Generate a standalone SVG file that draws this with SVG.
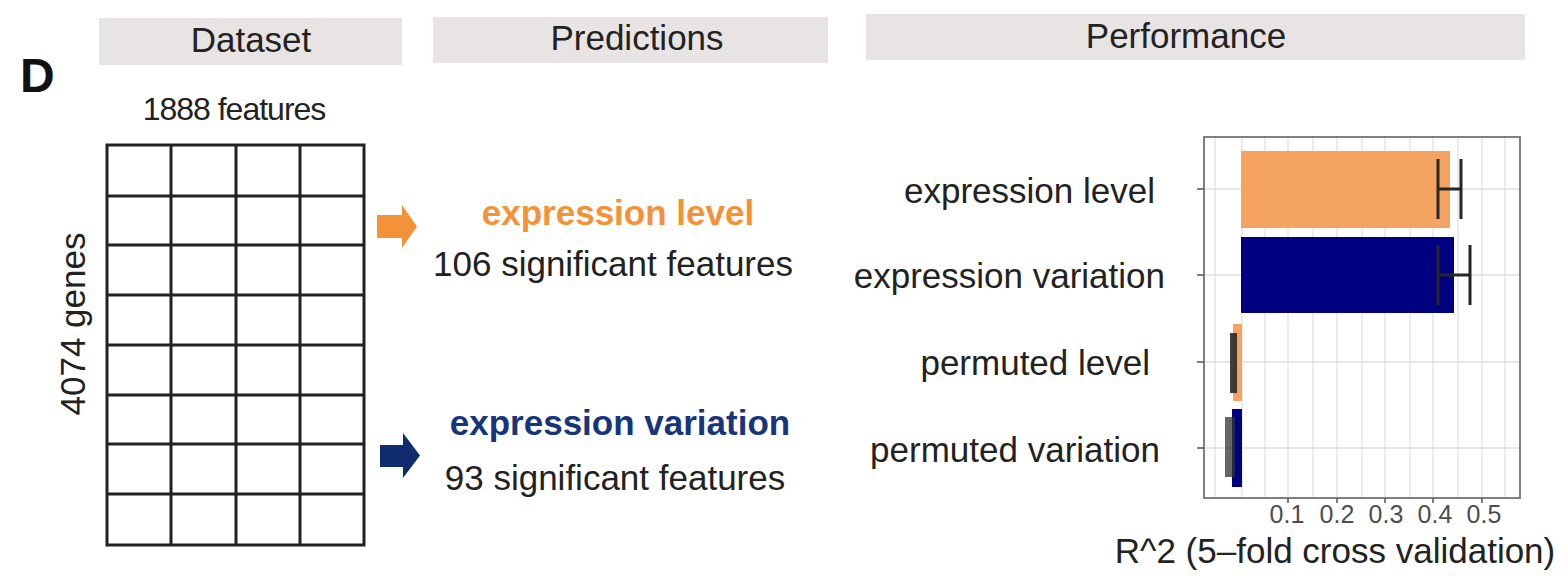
<svg xmlns="http://www.w3.org/2000/svg" width="1562" height="583" viewBox="0 0 1562 583">
<style>
text{font-family:"Liberation Sans",Arial,sans-serif;fill:#222}
.hdr{fill:#e8e4e4}
.ht{font-size:35px;text-anchor:middle}
.big{font-size:35px}
.grid{stroke:#222;stroke-width:3;fill:none}
.gl{stroke:#e6e6e6;stroke-width:1.5}
.tick{fill:#4d4d4d;font-size:25px;text-anchor:middle}
.eb{stroke:#262626;stroke-width:3;fill:none}
</style>
<rect width="1562" height="583" fill="#fff"/>
<g id="header-dataset"><rect class="hdr" x="99" y="18" width="303" height="47"/><text class="ht" x="251" y="52">Dataset</text></g>
<g id="header-predictions"><rect class="hdr" x="433" y="17" width="395" height="46"/><text class="ht" x="637" y="50">Predictions</text></g>
<g id="header-performance"><rect class="hdr" x="866" y="14" width="659" height="46"/><text class="ht" x="1186" y="48">Performance</text></g>
<g id="panel-label"><text x="20" y="92" style="font-size:48px;font-weight:bold;fill:#111">D</text></g>
<g id="dataset-matrix">
<text x="234" y="120" style="font-size:32px;text-anchor:middle;letter-spacing:-1px">1888 features</text>
<text transform="translate(85,324) rotate(-90)" style="font-size:35px;text-anchor:middle">4074 genes</text>
<rect class="grid" x="107" y="145" width="257" height="400"/>
<path class="grid" d="M171 145V545M236 145V545M300 145V545M107 196H364M107 245H364M107 295H364M107 345H364M107 395H364M107 444H364M107 494H364"/>
</g>
<g id="connectors">
<path d="M377 215H402V205L417 226.5L402 248V238H377Z" fill="#f39237"/>
<path d="M380 445H403V433L420 455.5L403 478V467H380Z" fill="#0f2d6e"/>
</g>
<g id="pred-level">
<text x="618" y="225" style="font-size:35px;font-weight:bold;fill:#f39237;text-anchor:middle">expression level</text>
<text x="613" y="276" style="font-size:35px;text-anchor:middle">106 significant features</text>
</g>
<g id="pred-variation">
<text x="620" y="435" style="font-size:35px;font-weight:bold;fill:#17357a;text-anchor:middle">expression variation</text>
<text x="615" y="490" style="font-size:35px;text-anchor:middle">93 significant features</text>
</g>
<g id="chart">
<rect x="1204" y="137" width="316" height="361" fill="#fff"/>
<path class="gl" d="M1215 137V498M1242 137V498M1265 137V498M1288 137V498M1313 137V498M1337 137V498M1362 137V498M1385 137V498M1410 137V498M1433 137V498M1458 137V498M1482 137V498M1505 137V498"/>
<path stroke="#e0e0e0" stroke-width="1.5" d="M1204 189H1520M1204 275H1520M1204 362H1520M1204 448H1520"/>
<rect x="1241" y="151" width="209" height="77" fill="#f4a460"/>
<rect x="1241" y="237" width="213" height="76" fill="#000080"/>
<rect x="1233" y="324" width="9" height="77" fill="#f4a460"/>
<rect x="1232" y="409" width="10" height="78" fill="#000080"/>
<path class="eb" d="M1438 159V219M1461 159V219M1438 189H1461"/>
<path class="eb" d="M1438 245V305M1470 245V305M1438 275H1470"/>
<rect x="1230" y="333" width="7" height="60" fill="#2a2a2a" opacity="0.9"/>
<rect x="1225" y="417" width="10" height="60" fill="#333" opacity="0.75"/>
<rect x="1204" y="137" width="316" height="361" fill="none" stroke="#808080" stroke-width="2"/>
<path stroke="#555" stroke-width="1.5" d="M1197 189H1204M1197 275H1204M1197 362H1204M1197 448H1204M1288 498V503M1337 498V503M1385 498V503M1433 498V503M1482 498V503"/>
<text class="tick" x="1287" y="523">0.1</text>
<text class="tick" x="1337" y="523">0.2</text>
<text class="tick" x="1386" y="523">0.3</text>
<text class="tick" x="1435" y="523">0.4</text>
<text class="tick" x="1484" y="523">0.5</text>
<text class="big" x="1155" y="203" text-anchor="end">expression level</text>
<text class="big" x="1165" y="288" text-anchor="end">expression variation</text>
<text class="big" x="1150" y="375" text-anchor="end">permuted level</text>
<text class="big" x="1160" y="462" text-anchor="end">permuted variation</text>
<text class="big" x="1335" y="563" text-anchor="middle">R^2 (5–fold cross validation)</text>
</g>
</svg>
